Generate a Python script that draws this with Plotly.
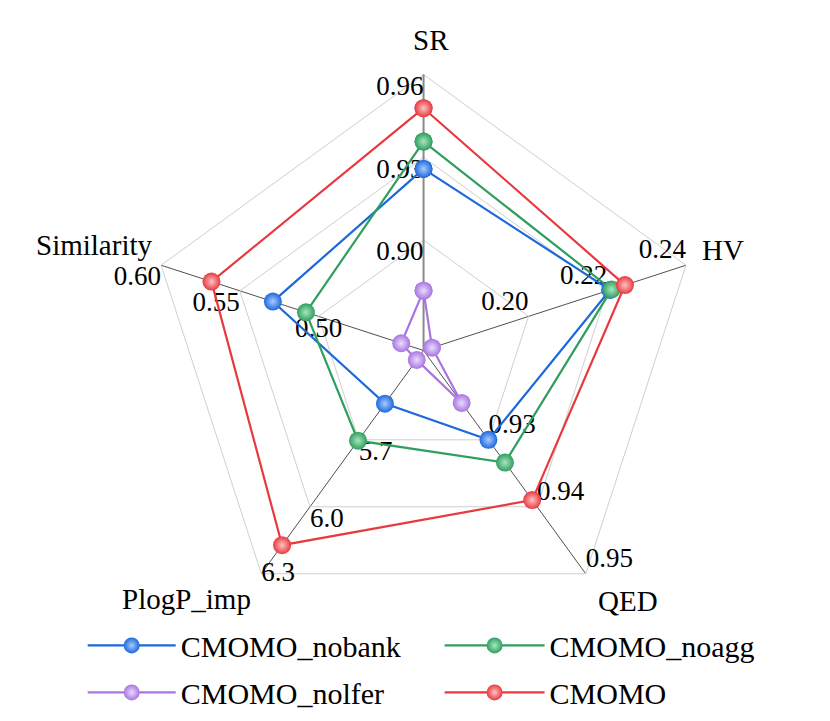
import plotly.graph_objects as go

categories = ["SR", "HV", "QED", "PlogP_imp", "Similarity"]

# tick labels shown on each axis (inner, middle, outer ring)
ticks_SR = [0.90, 0.93, 0.96]
ticks_HV = [0.20, 0.22, 0.24]
ticks_QED = [0.93, 0.94, 0.95]
ticks_PlogP = [5.7, 6.0, 6.3]
ticks_Sim = [0.50, 0.55, 0.60]
tick_text_SR = ["0.90", "0.93", "0.96"]
tick_text_HV = ["0.20", "0.22", "0.24"]
tick_text_QED = ["0.93", "0.94", "0.95"]
tick_text_PlogP = ["5.7", "6.0", "6.3"]
tick_text_Sim = ["0.50", "0.55", "0.60"]

series_names = ["CMOMO_nobank", "CMOMO_noagg", "CMOMO_nolfer", "CMOMO"]
nobank = [0.9258, 0.2207, 0.9300, 5.538, 0.529]
noagg = [0.9357, 0.2211, 0.9334, 5.704, 0.508]
nolfer = [0.8817, 0.1755, 0.9245, 5.342, 0.4475]
cmomo = [0.9478, 0.2245, 0.9390, 6.172, 0.568]

all_ticks = [ticks_SR, ticks_HV, ticks_QED, ticks_PlogP, ticks_Sim]
all_tick_text = [tick_text_SR, tick_text_HV, tick_text_QED, tick_text_PlogP, tick_text_Sim]
ring_pos = [0.4, 0.7, 1.0]

# per-axis scale: outer ring = last tick, rings spaced 0.3 of radius per tick step
scales = []
for t in all_ticks:
    step = t[1] - t[0]
    hi = t[2]
    lo = hi - step / 0.3
    scales.append((lo, hi))


def norm(vals):
    return [(v - lo) / (hi - lo) for v, (lo, hi) in zip(vals, scales)]


SERIF = "Times New Roman, Liberation Serif, DejaVu Serif, serif"

colors = {"CMOMO_nobank": "#1c68dc", "CMOMO_noagg": "#2f9e5e",
          "CMOMO_nolfer": "#a874e0", "CMOMO": "#e8393f"}
light = {"CMOMO_nobank": "#a9cbff", "CMOMO_noagg": "#a8e6c0",
         "CMOMO_nolfer": "#eadcff", "CMOMO": "#ffc2c4"}
data = {"CMOMO_nobank": nobank, "CMOMO_noagg": noagg,
        "CMOMO_nolfer": nolfer, "CMOMO": cmomo}
legend_of = {"CMOMO_nobank": "legend", "CMOMO_nolfer": "legend",
             "CMOMO_noagg": "legend2", "CMOMO": "legend2"}
rank = {n: i for i, n in enumerate(series_names)}

fig = go.Figure()

# tick label text traces
positions = [
    ["bottom left"] * 3,
    ["top left"] * 3,
    ["top right"] * 3,
    ["bottom right", "bottom right", "middle right"],
    ["bottom center", "bottom left", "bottom left"],
]
for cat, txt, pos in zip(categories, all_tick_text, positions):
    fig.add_trace(go.Scatterpolar(
        r=ring_pos, theta=[cat] * 3, mode="text", text=txt,
        textposition=pos, showlegend=False, hoverinfo="skip",
        textfont=dict(family=SERIF, size=27, color="black")))

draw_order = ["CMOMO_nolfer", "CMOMO_nobank", "CMOMO_noagg", "CMOMO"]
for name in draw_order:
    r = norm(data[name])
    fig.add_trace(go.Scatterpolar(
        r=r + [r[0]], theta=categories + [categories[0]],
        mode="lines+markers", name=name, legendrank=rank[name],
        legend=legend_of[name], legendgroup=name,
        line=dict(color=colors[name], width=2.2),
        marker=dict(size=18, color=colors[name],
                    gradient=dict(type="radial", color=light[name]),
                    line=dict(width=0)),
    ))

# axis titles
title_pos = {"SR": (423, 32), "HV": (715, 242), "QED": (620, 593),
             "PlogP_imp": (178, 591), "Similarity": (86, 237)}
for cat in categories:
    px, py = title_pos[cat]
    fig.add_annotation(x=px / 830, y=1 - py / 721, xref="paper", yref="paper",
                       text=cat, showarrow=False, xanchor="center", yanchor="middle",
                       font=dict(family=SERIF, size=29, color="black"))

leg_common = dict(orientation="v", yanchor="top", xanchor="left",
                  font=dict(family=SERIF, size=30, color="black"),
                  tracegroupgap=5, bgcolor="rgba(0,0,0,0)")

fig.update_layout(
    width=830, height=721,
    margin=dict(l=0, r=0, t=0, b=0),
    paper_bgcolor="white",
    font=dict(family=SERIF, color="black"),
    polar=dict(
        domain=dict(x=[0.1681, 0.8332], y=[0.1422, 0.9077]),
        bgcolor="white",
        gridshape="linear",
        radialaxis=dict(range=[0, 1], tickvals=ring_pos, showticklabels=False,
                        ticks="", gridcolor="#cfcfcf", gridwidth=1,
                        showline=True, linecolor="#8a8a8a", linewidth=2,
                        angle=90, layer="below traces"),
        angularaxis=dict(rotation=90, direction="clockwise",
                         gridcolor="#505050", gridwidth=1,
                         showline=True, linecolor="#cfcfcf", linewidth=1,
                         ticks="", showticklabels=False, layer="below traces"),
    ),
    legend=dict(x=0.09, y=0.152, itemwidth=88, **leg_common),
    legend2=dict(x=0.52, y=0.152, itemwidth=100, **leg_common),
    showlegend=True,
)

fig.write_html("out.html")
